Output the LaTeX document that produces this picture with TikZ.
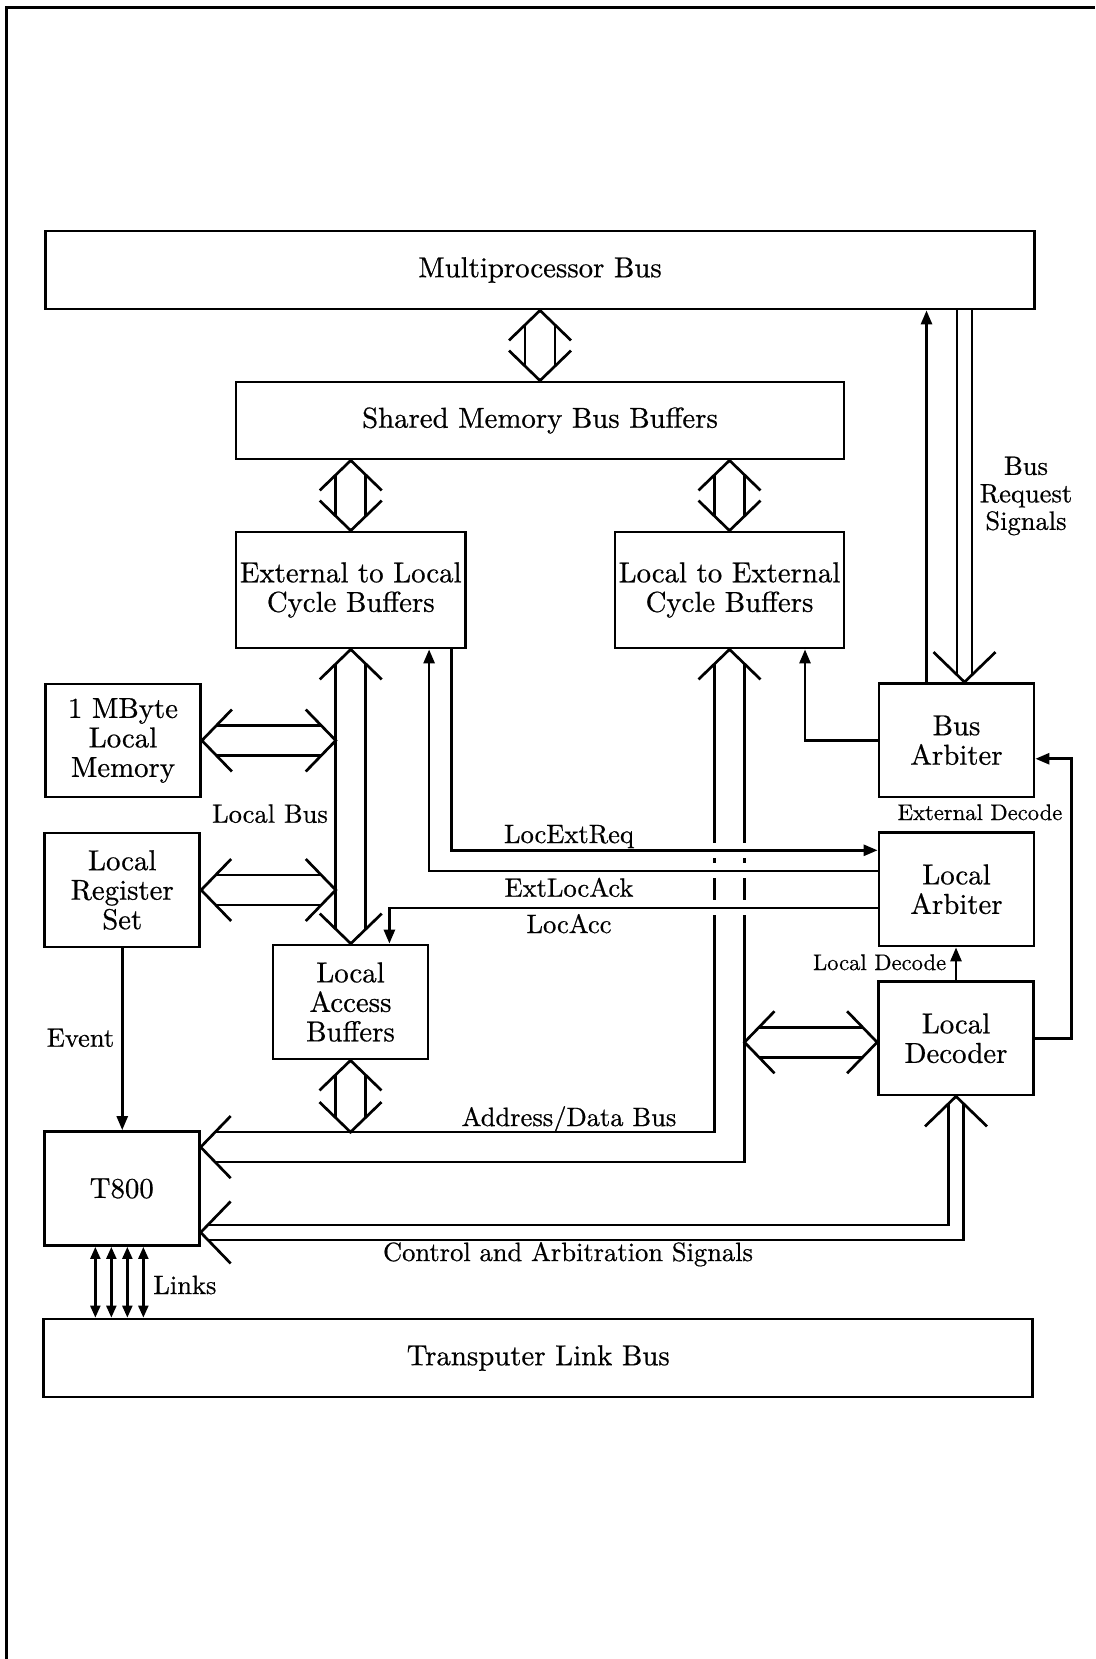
\documentclass[tikz,border=0pt]{standalone}
\usepackage{fontspec}
\setmainfont{lmroman10-regular}[Extension=.otf,FakeBold=0.6]
\usetikzlibrary{arrows.meta,calc}
% open "bus" arrow heads (tip at #1)
\newcommand\hdS[1]{\draw ($(#1)+(-31,-30)$) -- (#1) -- ($(#1)+(31,-30)$);}
\newcommand\hdN[1]{\draw ($(#1)+(-31,30)$) -- (#1) -- ($(#1)+(31,30)$);}
\newcommand\hdW[1]{\draw ($(#1)+(30,-31)$) -- (#1) -- ($(#1)+(30,31)$);}
\newcommand\hdE[1]{\draw ($(#1)+(-30,-31)$) -- (#1) -- ($(#1)+(-30,31)$);}
% double shafts between two tips, half spacing #3
\newcommand\shV[3]{%
  \draw ($(#1)+(-#3,#3*0.97)$) -- ($(#2)+(-#3,-#3*0.97)$);
  \draw ($(#1)+(#3,#3*0.97)$) -- ($(#2)+(#3,-#3*0.97)$);}
\newcommand\shH[3]{%
  \draw ($(#1)+(#3*0.97,-#3)$) -- ($(#2)+(-#3*0.97,-#3)$);
  \draw ($(#1)+(#3*0.97,#3)$) -- ($(#2)+(-#3*0.97,#3)$);}
\begin{document}
\begin{tikzpicture}[x=1pt,y=-1pt,line width=2.7pt,
  box/.style={draw,line width=2.8pt,inner sep=0pt,align=center,
    minimum width=155pt,minimum height=114pt,
    font=\fontsize{28.8}{29.5}\selectfont},
  wide/.style={box,minimum width=989pt,minimum height=78pt},
  lbl/.style={font=\fontsize{26.5}{28}\selectfont,inner sep=0pt,anchor=base},
  sml/.style={font=\fontsize{22.6}{24}\selectfont,inner sep=0pt,anchor=base},
  sig/.style={-{Triangle[length=14pt,width=11pt]}},
  sigboth/.style={line width=2.3pt,{Triangle[length=12pt,width=10pt]}-{Triangle[length=12pt,width=10pt]}},
  gap/.style={draw=white,line width=15pt}
]
\useasboundingbox (0,0) rectangle (1095,1659);
% page frame (partial, as scanned)
\draw[line width=3pt] (6,1659) -- (6,8) -- (1095,8);

% ---------- blocks ----------
\node[wide] (mpb) at (540,270) {Multiprocessor Bus};
\node[box,minimum width=608pt,minimum height=77pt] (smbb) at (540,420.5) {Shared Memory Bus Buffers};
\node[box,minimum width=229.5pt,minimum height=116pt] (e2l) at (350.75,590) {External to Local\\Cycle Buffers};
\node[box,minimum width=229pt,minimum height=116pt] (l2e) at (729.5,590) {Local to External\\Cycle Buffers};
\node[box,minimum height=113pt] (mem) at (123,740.5) {1 MByte\\Local\\Memory};
\node[box] (reg) at (122.25,890) {Local\\Register\\Set};
\node[box] (lab) at (350.5,1002) {Local\\Access\\Buffers};
\node[box] (t800) at (121.75,1188.5) {T800};
\node[wide] (tlb) at (538.25,1358) {Transputer Link Bus};
\node[box,minimum height=113.5pt] (barb) at (956.5,740.25) {Bus\\Arbiter};
\node[box,minimum height=113.5pt] (larb) at (956.5,889.25) {Local\\Arbiter};
\node[box,minimum height=113.5pt] (ldec) at (956,1038.25) {Local\\Decoder};

% ---------- wide bus arrows ----------
\coordinate (a1) at (mpb.south -| smbb.north);
\hdN{a1} \hdS{smbb.north} \shV{a1}{smbb.north}{15}
\coordinate (a2) at (smbb.south -| e2l.north);
\hdN{a2} \hdS{e2l.north} \shV{a2}{e2l.north}{15}
\coordinate (a3) at (smbb.south -| l2e.north);
\hdN{a3} \hdS{l2e.north} \shV{a3}{l2e.north}{15}
% local bus
\coordinate (lbt) at (e2l.south);
\coordinate (lbb) at (e2l.south |- lab.north);
\hdN{lbt} \hdS{lbb} \shV{lbt}{lbb}{15}
\coordinate (m2) at ($(mem.east -| lbt)+(-15,0)$);
\hdW{mem.east} \hdE{m2} \shH{mem.east}{m2}{15}
\coordinate (r2) at ($(reg.east -| lbt)+(-15,0)$);
\hdW{reg.east} \hdE{r2} \shH{reg.east}{r2}{15}
% address / data bus
\coordinate (adtip) at ($(t800.north east)+(0,17)$);
\coordinate (a7) at ($(lab.south |- adtip)+(0,-15)$);
\hdN{lab.south} \hdS{a7} \shV{lab.south}{a7}{15}
\hdN{l2e.south} \hdW{adtip}
\draw ($(l2e.south)+(-15,14.5)$) -- ($(l2e.south |- adtip)+(-15,-15)$) -- ($(adtip)+(14.5,-15)$);
\draw ($(l2e.south)+(15,14.5)$) -- ($(l2e.south |- adtip)+(15,15)$) -- ($(adtip)+(14.5,15)$);
\coordinate (a9) at ($(l2e.south |- ldec.west)+(15,4)$);
\coordinate (a9r) at ($(ldec.west)+(0,4)$);
\hdW{a9} \hdE{a9r} \shH{a9}{a9r}{15}
% control and arbitration signals
\coordinate (ctip) at ($(t800.south east)+(0,-14.5)$);
\hdW{ctip} \hdN{ldec.south}
\draw ($(ldec.south)+(-7.75,7.5)$) -- ($(ldec.south |- ctip)+(-7.75,-7.5)$) -- ($(ctip)+(7.3,-7.5)$);
\draw ($(ldec.south)+(7.75,7.5)$) -- ($(ldec.south |- ctip)+(7.75,7.5)$) -- ($(ctip)+(7.3,7.5)$);
% bus request signals
\coordinate (brt) at ($(barb.north)+(8,0)$);
\hdS{brt}
\draw ($(mpb.south -| brt)+(-7.5,0)$) -- ($(brt)+(-7.5,-7.3)$);
\draw ($(mpb.south -| brt)+(7.5,0)$) -- ($(brt)+(7.5,-7.3)$);

% ---------- single signals ----------
\draw[sig] ($(barb.north)+(-30,0)$) -- ($(mpb.south -| barb.north)+(-30,0)$);
\draw[sig] (barb.west) -| ($(l2e.south)+(75.5,0)$);
\draw[sig] (ldec.east) -- ++(36.5,0) |- ($(barb.east)+(0,18.5)$);
\draw[sig] (ldec.north) -- (ldec.north |- larb.south);

\coordinate (rq) at ($(larb.north west)+(0,19.2)$);
\coordinate (ak) at ($(larb.north west)+(0,39.8)$);
\coordinate (ac) at ($(larb.north west)+(0,76.8)$);
\draw[gap] (rq -| l2e.south) ++(-30,0) -- ++(60,0);
\draw[gap] (ak -| l2e.south) ++(-30,0) -- ++(60,0);
\draw[gap] (ac -| l2e.south) ++(-30,0) -- ++(60,0);
\draw[sig] ($(e2l.south east)+(-15.5,0)$) |- (rq);
\draw[sig] (ak) -| ($(e2l.south east)+(-37.8,0)$);
\draw[sig] (ac) -| ($(lab.north east)+(-40,0)$);

\draw[sig] (reg.south) -- (reg.south |- t800.north);
\foreach \dx in {52.5,68.5,84.5,100.5}
  \draw[sigboth] ($(t800.south west)+(\dx,0)$) -- ($(t800.south west |- tlb.north)+(\dx,0)$);

% ---------- labels ----------
\node[lbl] (llb) at (270,822.7) {Local Bus};
\node[lbl] (lrq) at (569,843) {LocExtReq};
\node[lbl] (lak) at (569,896.7) {ExtLocAck};
\node[lbl] (lac) at (569,933) {LocAcc};
\node[lbl] (lad) at (569,1126) {Address/Data Bus};
\node[lbl] (lca) at (568,1261) {Control and Arbitration Signals};
\node[lbl,anchor=base west] (lln) at (152,1294) {Links};
\node[lbl] (lev) at (80.5,1046.7) {Event};
\node[font=\fontsize{26.5}{27.5}\selectfont,align=center,inner sep=0pt] (lbr) at (1026,496) {Bus\\Request\\Signals};
\node[sml] (led) at (980,820) {External Decode};
\node[sml,anchor=base east] (lld) at (947.5,970) {Local Decode};
\end{tikzpicture}
\end{document}
